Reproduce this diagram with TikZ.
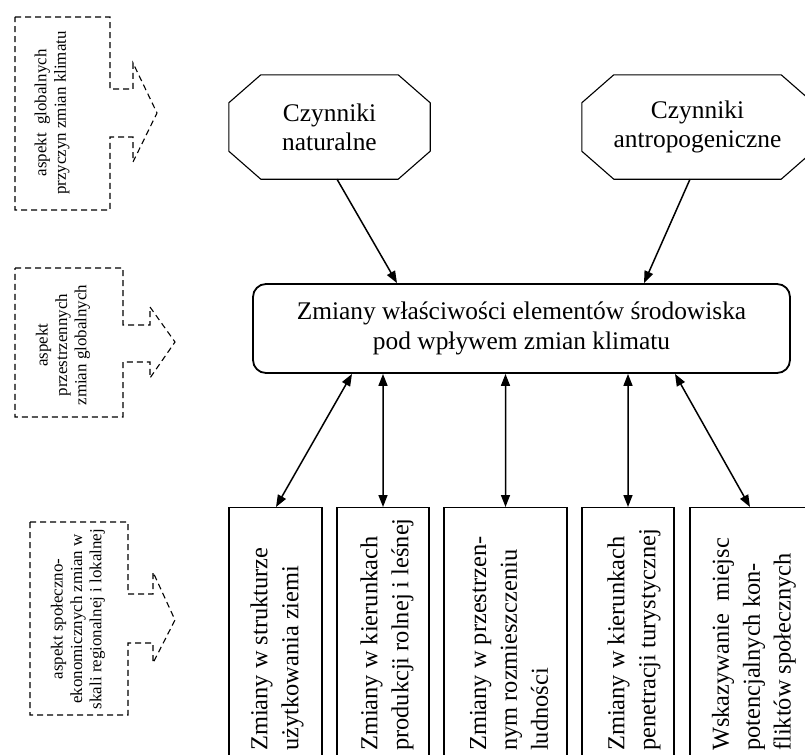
\documentclass[tikz,border=0pt]{standalone}
\usepackage{fontspec}
\setmainfont{Liberation Serif}
\usetikzlibrary{arrows.meta}

\tikzset{
  factor/.style={minimum height=104bp, align=center, inner sep=0pt,
    font=\fontsize{25.5}{29}\selectfont},
  octoline/.style={draw, line width=1.1bp, line join=miter},
  envbox/.style={draw, rounded corners=13bp, line width=1.8bp,
    minimum width=537bp, minimum height=89bp, align=center, inner sep=0pt,
    font=\fontsize{25.5}{29.5}\selectfont},
  outbox/.style={draw, line width=1.1bp, minimum height=280bp, anchor=north,
    inner sep=0pt},
  outtext/.style={rotate=90, anchor=west, align=left, inner sep=0pt,
    font=\fontsize{24.5}{31}\selectfont},
  aspectline/.style={draw, dashed, dash pattern=on 6bp off 4bp, line width=1.1bp},
  aspecttext/.style={rotate=90, align=center, inner sep=0pt,
    font=\fontsize{17}{19.5}\selectfont},
  conn/.style={line width=1.5bp, -{Triangle[length=12bp,width=9bp]}},
  dconn/.style={line width=1.5bp,
    {Triangle[length=12bp,width=9bp]}-{Triangle[length=12bp,width=9bp]}},
}

% octagonal outline around a named node (chamfer 32bp across, 28bp down)
\newcommand\octoframe[1]{%
  \draw[octoline] ([xshift=32bp]#1.north west) -- ([xshift=-32bp]#1.north east)
    -- ([yshift=-28bp]#1.north east) -- ([yshift=28bp]#1.south east)
    -- ([xshift=-32bp]#1.south east) -- ([xshift=32bp]#1.south west)
    -- ([yshift=28bp]#1.south west) -- ([yshift=-28bp]#1.north west) -- cycle;}

\begin{document}
\begin{tikzpicture}[x=1bp,y=-1bp]
\useasboundingbox (0,0) rectangle (805,755);

% dashed side frames with their arrows
\path[aspectline] (15,17) -- (110,17) -- (110,89) -- (133,89) -- (133,63)
  -- (157,113) -- (133,162) -- (133,137) -- (110,137) -- (110,210)
  -- (15,210) -- cycle;
\node[aspecttext] (a1) at (52,113) {aspekt\ \ globalnych\\przyczyn zmian klimatu};

\path[aspectline] (15,268) -- (123,268) -- (123,325) -- (150,325) -- (150,307)
  -- (175,342) -- (150,378) -- (150,362) -- (123,362) -- (123,417)
  -- (15,417) -- cycle;
\node[aspecttext] (a2) at (63,345) {aspekt\\przestrzennych\\zmian globalnych};

\path[aspectline] (30,522) -- (128,522) -- (128,594) -- (153,594) -- (153,572)
  -- (175,620) -- (153,663) -- (153,643) -- (128,643) -- (128,715)
  -- (30,715) -- cycle;
\node[aspecttext] (a3) at (78,619) {aspekt społeczno-\\ekonomicznych zmian w\\skali regionalnej i lokalnej};

% factors
\node[factor, minimum width=201bp] (f1) at (329.5,127) {Czynniki\\naturalne};
\node[factor, minimum width=231bp] (f2) at (697.5,127) {Czynniki\\antropogeniczne};
\octoframe{f1}
\octoframe{f2}

% central box
\node[envbox] (env) at (521.5,328.5)
  {Zmiany właściwości elementów środowiska\\pod wpływem zmian klimatu};

% consequence boxes
\node[outbox, minimum width=93bp]  (b1) at (275.5,507) {};
\node[outbox, minimum width=92bp]  (b2) at (383,507) {};
\node[outbox, minimum width=123bp] (b3) at (505.5,507) {};
\node[outbox, minimum width=92bp]  (b4) at (628,507) {};
\node[outbox, minimum width=120bp] (b5) at (750,507) {};

\node[outtext] (t1) at (277,751) {Zmiany w strukturze\\użytkowania ziemi};
\node[outtext] (t2) at (387,751) {Zmiany w kierunkach\\produkcji rolnej i leśnej};
\node[outtext] (t3) at (509,751) {Zmiany w przestrzen-\\nym rozmieszczeniu\\ludności};
\node[outtext] (t4) at (634,751) {Zmiany w kierunkach\\penetracji turystycznej};
\node[outtext] (t5) at (754,751) {Wskazywanie\ \ miejsc\\potencjalnych kon-\\fliktów społecznych};

% connectors
\draw[conn] ([xshift=7.5bp]f1.south) -- ([xshift=-124.5bp]env.north);
\draw[conn] ([xshift=-7.5bp]f2.south) -- ([xshift=122.5bp]env.north);

\draw[dconn] ([xshift=-169.5bp]env.south) -- ([xshift=0.5bp]b1.north);
\draw[dconn] ([xshift=-138.5bp]env.south) -- (b2.north);
\draw[dconn] ([xshift=-16bp]env.south) -- (b3.north);
\draw[dconn] ([xshift=106.5bp]env.south) -- (b4.north);
\draw[dconn] ([xshift=153.5bp]env.south) -- (b5.north);
\end{tikzpicture}
\end{document}
